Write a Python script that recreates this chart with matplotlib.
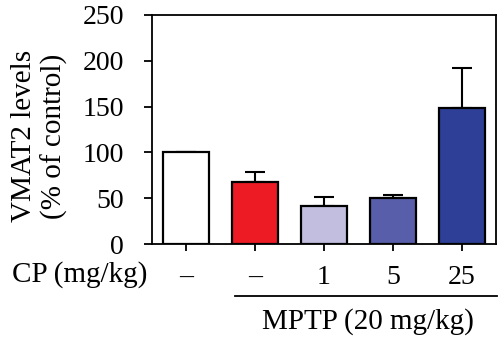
import matplotlib.pyplot as plt
from matplotlib.lines import Line2D

groups = ["Control", "MPTP", "MPTP+CP1", "MPTP+CP5", "MPTP+CP25"]
cp_labels = ["\u2013", "\u2013", "1", "5", "25"]
vmat2 = [100, 68, 41.5, 50.2, 148.5]
sem = [0, 10.6, 9.8, 3, 43.5]
colors = ["#FFFFFF", "#ED1C24", "#C2BEE0", "#585EA9", "#2D3F96"]

plt.rcParams['font.family'] = ['Liberation Serif', 'DejaVu Serif']

fig = plt.figure(figsize=(5, 3.38), dpi=100)
ax = fig.add_axes([0.304, 0.278, 0.688, 0.678])

x = list(range(len(groups)))
ax.bar(x, vmat2, width=0.67, color=colors, edgecolor="black", linewidth=1.6, zorder=2)
ax.errorbar(x, vmat2, yerr=[[0] * len(sem), sem], fmt="none", ecolor="black",
            elinewidth=1.5, capsize=7, capthick=1.5, zorder=1)

ax.set_xlim(-0.5, 4.5)
ax.set_ylim(0, 250)
ax.set_yticks([0, 50, 100, 150, 200, 250])
ax.set_xticks(x)
ax.set_xticklabels(cp_labels)
for s in ax.spines.values():
    s.set_linewidth(1.3)
ax.tick_params(axis="y", direction="out", length=6, width=1.3, labelsize=20, pad=14)
ax.tick_params(axis="x", direction="out", length=5, width=1.3, labelsize=20, pad=10)

ax.set_ylabel("VMAT2 levels\n(% of control)", fontsize=21, linespacing=1.2)
ax.yaxis.set_label_coords(-0.244, 0.47)

fig.text(12 / 500, 1 - 282 / 338, "CP (mg/kg)", fontsize=21, va="baseline", ha="left")
fig.add_artist(Line2D([235 / 500, 497 / 500], [1 - 296 / 338] * 2,
                      transform=fig.transFigure, color="black", linewidth=1.3))
fig.text(368 / 500, 1 - 329 / 338, "MPTP (20 mg/kg)", fontsize=21, va="baseline", ha="center")

fig.savefig("out.png", dpi=100)
